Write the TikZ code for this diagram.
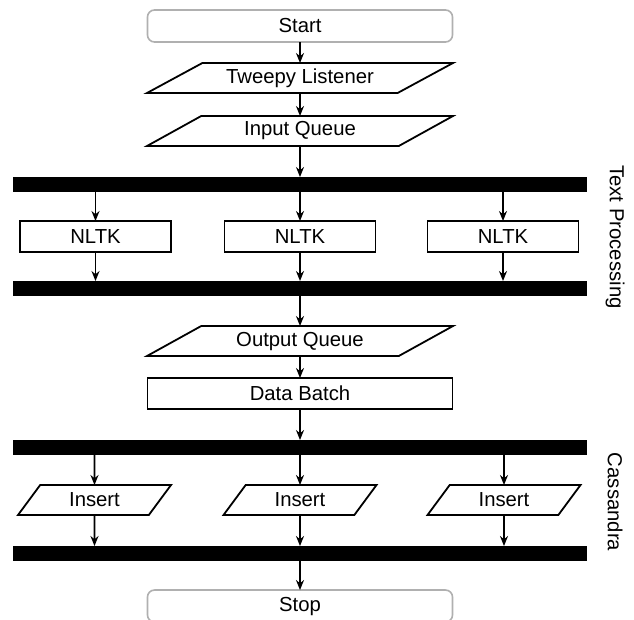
\documentclass[tikz,border=0pt]{standalone}
\usepackage{fontspec}
\setmainfont{Liberation Sans}
\usetikzlibrary{shapes.geometric, positioning, arrows.meta}
\definecolor{termgray}{HTML}{B0B0B0}
\tikzset{
    ->,
    >={Stealth[length=10pt, width=8pt]},
    node distance = 30pt,
    every node/.style={outer sep=0pt},
    terminal/.style={draw=termgray, line width=1.6pt, rounded corners=7pt,
        minimum width=305pt, minimum height=32pt},
    process/.style={draw, line width=1.8pt, minimum width=151pt, minimum height=31pt},
    io/.style={draw, line width=1.8pt, shape=trapezium, trapezium stretches body,
        trapezium left angle=24.8, trapezium right angle=155.2,
        minimum width=306pt, minimum height=30pt},
    smallio/.style={io, trapezium left angle=43.2, trapezium right angle=136.8,
        minimum width=153pt},
    forkbar/.style={fill=black, minimum width=574pt, minimum height=15pt, inner sep=0pt},
    lane/.style={rotate=-90}
}

\begin{document}
\begin{tikzpicture}[x=1pt, y=-1pt, line width=1.8pt, font=\fontsize{20.3}{24}\selectfont]
    \useasboundingbox (0,0) rectangle (634,619);
    % main column
        \node[terminal] (start) at (300,26) {Start};
        \node[io, below=21pt of start] (tweepy) {Tweepy Listener};
        \node[io, below=23pt of tweepy] (inq) {Input Queue};
        \node[forkbar, below=31pt of inq] (bar1) {};
        \node[process, below=29pt of bar1, xshift=-204.5pt] (nltk1) {NLTK};
        \node[process, below=29pt of bar1] (nltk2) {NLTK};
        \node[process, below=29pt of bar1, xshift=203pt] (nltk3) {NLTK};
        \node[forkbar, below=29pt of nltk2] (bar2) {};
        \node[io, below=of bar2] (outq) {Output Queue};
        \node[process, minimum width=305pt, below=22pt of outq] (batch) {Data Batch};
        \node[forkbar, below=31pt of batch] (bar3) {};
        \node[smallio, below=of bar3, xshift=-205.5pt] (ins1) {Insert};
        \node[smallio, below=of bar3] (ins2) {Insert};
        \node[smallio, below=of bar3, xshift=204pt] (ins3) {Insert};
        \node[forkbar, below=31pt of ins2] (bar4) {};
        \node[terminal, below=29pt of bar4] (stop) {Stop};
        \node[lane] (textproc) at (615,237) {Text Processing};
        \node[lane] (cassandra) at (615,502) {Cassandra};
        \draw
            (start) -- (tweepy);
        \draw
            (tweepy) -- (inq);
        \draw
            (inq) -- (bar1);
        \foreach \i in {1,2,3} {
            \draw (bar1.south -| nltk\i) -- (nltk\i);
            \draw (nltk\i) -- (nltk\i |- bar2.north);
            \draw (bar3.south -| ins\i) -- (ins\i);
            \draw (ins\i) -- (ins\i |- bar4.north);
        }
        \draw (bar2) -- (outq);
        \draw (outq) -- (batch);
        \draw (batch) -- (bar3);
        \draw (bar4) -- (stop);

    \end{tikzpicture}
\end{document}
